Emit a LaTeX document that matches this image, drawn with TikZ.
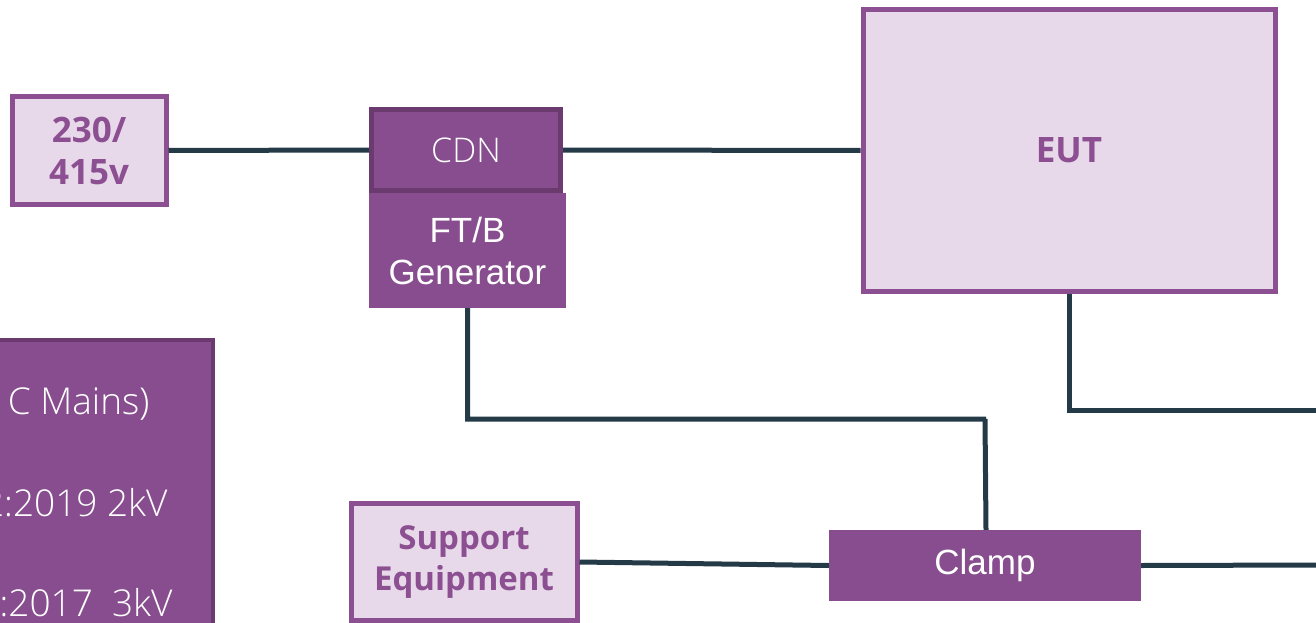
\documentclass[tikz,border=0pt]{standalone}
\usepackage{fontspec}
\setmainfont{Open Sans}
\newfontfamily\arialf{Liberation Sans}
\newfontfamily\lightf{Open Sans Light}
\definecolor{dpurple}{HTML}{874D8E}
\definecolor{dborder}{HTML}{6B3A6E}
\definecolor{lfill}{HTML}{E8D9EA}
\definecolor{lborder}{HTML}{8C4F91}
\definecolor{wire}{HTML}{243A47}
\begin{document}
\begin{tikzpicture}[x=1pt,y=-1pt,
  lightbox/.style={draw=lborder,fill=lfill,line width=5pt,inner sep=0pt,text=lborder,font=\bfseries\fontsize{35}{42}\selectfont,align=center},
  darkbox/.style={fill=dpurple,inner sep=0pt,text=white,align=center},
  legtext/.style={anchor=base east,text=white,font=\lightf\fontsize{37}{42}\selectfont},
  conn/.style={draw=wire,line width=5pt}]
\useasboundingbox (0,0) rectangle (1316,623);
\clip (0,0) rectangle (1316,623);
% nodes
\node[lightbox,minimum width=154pt,minimum height=107pt] (src) at (89,150.5) {230/\\415v};
\node[darkbox,draw=dborder,line width=5pt,minimum width=189pt,minimum height=80pt,font=\lightf\fontsize{34}{40}\selectfont] (cdn) at (466,150) {CDN};
\node[darkbox,minimum width=197pt,minimum height=115pt,font=\arialf\fontsize{35}{42}\selectfont] (gen) at (467.5,250.5) {FT/B\\Generator};
\node[lightbox,minimum width=412pt,minimum height=281pt] (eut) at (1069,150.5) {EUT};
\node[lightbox,minimum width=226pt,minimum height=117pt,font=\bfseries\fontsize{33}{41}\selectfont] (sup) at (464,562) {Support\\Equipment};
\node[darkbox,minimum width=312pt,minimum height=71pt,font=\arialf\fontsize{35}{42}\selectfont] (clamp) at (985,565.5) {Clamp};
\node[darkbox,draw=dborder,line width=4pt,minimum width=240pt,minimum height=330pt] (legend) at (93,505) {};
\node[legtext] (l1) at (153,414) {C Mains)};
\node[legtext] (l2) at (171,516) {2:2019 2kV};
\node[legtext] (l3) at (176,616) {:2017\ \ 3kV};
% free ends
\coordinate (e1) at (1320,410);
\coordinate (e2) at (1320,565);
% connectors
\draw[conn] (src.east) -- (cdn.west);
\draw[conn] (cdn.east) -- (eut.west);
\draw[conn] (gen.south) |- (986,419) -- (986,419 -| clamp.north) -- ([xshift=1pt]clamp.north);
\draw[conn] (eut.south) |- (e1);
\draw[conn] (sup.east) -- (clamp.west);
\draw[conn] (clamp.east) -- (e2);
\end{tikzpicture}
\end{document}
